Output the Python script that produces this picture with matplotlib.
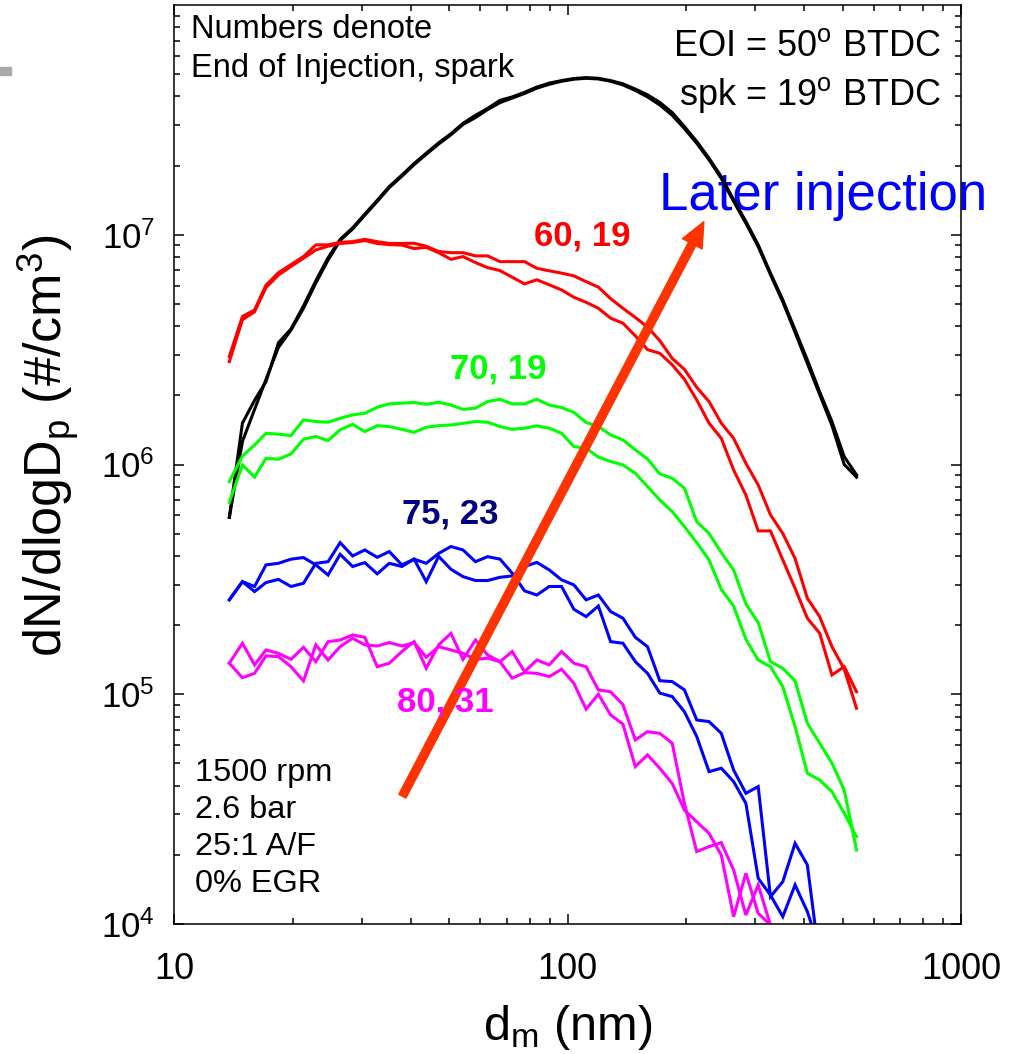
import numpy as np
import matplotlib
matplotlib.use("Agg")
import matplotlib.pyplot as plt
from matplotlib.ticker import FixedLocator, FixedFormatter, LogLocator, LogFormatterMathtext, NullFormatter
from matplotlib.patches import Rectangle

plt.rcParams["font.family"] = ["Liberation Sans", "DejaVu Sans"]
plt.rcParams["mathtext.fontset"] = "custom"
plt.rcParams["mathtext.rm"] = "Liberation Sans"
plt.rcParams["mathtext.it"] = "Liberation Sans:italic"
plt.rcParams["mathtext.bf"] = "Liberation Sans:bold"

# SMPS mobility diameters (nm), every other channel of the 64 ch/decade set
d_nm = [13.8, 14.9, 16.0, 17.1, 18.4, 19.8, 21.3, 22.9, 24.6, 26.4,
        28.4, 30.5, 32.8, 35.2, 37.9, 40.7, 43.7, 47.0, 50.5, 54.2,
        58.3, 62.6, 67.3, 72.3, 77.7, 83.5, 89.8, 96.5, 103.7, 111.4,
        119.7, 128.6, 138.2, 148.6, 159.6, 171.5, 184.4, 198.1, 212.9, 228.8,
        245.8, 264.2, 283.9, 305.1, 327.8, 352.3, 378.6, 406.8, 437.1, 469.8,
        504.8, 542.5]

# log10 of dN/dlogDp (#/cm3), two repeat scans per condition
eoi50_a = [5.77, 6.18, 6.28, 6.36, 6.53, 6.59, 6.69, 6.80, 6.90, 6.98,
           7.03, 7.09, 7.15, 7.21, 7.26, 7.31, 7.355, 7.40, 7.44, 7.485,
           7.52, 7.55, 7.585, 7.60, 7.62, 7.643, 7.66, 7.671, 7.680, 7.684,
           7.681, 7.671, 7.657, 7.634, 7.609, 7.576, 7.532, 7.471, 7.406, 7.333,
           7.253, 7.152, 7.058, 6.956, 6.833, 6.717, 6.586, 6.455, 6.317, 6.187,
           6.034, 5.955]
eoi50_b = [5.77, 6.10, 6.24, 6.37, 6.51, 6.585, 6.68, 6.79, 6.89, 6.975,
           7.025, 7.085, 7.145, 7.205, 7.255, 7.305, 7.35, 7.395, 7.435, 7.48,
           7.51, 7.545, 7.575, 7.595, 7.615, 7.638, 7.655, 7.668, 7.677, 7.681,
           7.678, 7.668, 7.652, 7.628, 7.600, 7.565, 7.520, 7.462, 7.398, 7.326,
           7.245, 7.145, 7.050, 6.948, 6.826, 6.708, 6.575, 6.44, 6.305, 6.17,
           6.00, 5.945]

eoi60_a = [6.448, 6.63, 6.665, 6.77, 6.825, 6.862, 6.898, 6.934, 6.950, 6.962,
           6.966, 6.975, 6.962, 6.957, 6.955, 6.940, 6.945, 6.922, 6.893, 6.905,
           6.879, 6.857, 6.844, 6.815, 6.786, 6.804, 6.782, 6.760, 6.728, 6.706,
           6.680, 6.637, 6.615, 6.560, 6.500, 6.484, 6.434, 6.371, 6.281, 6.180,
           6.114, 5.976, 5.867, 5.711, 5.711, 5.585, 5.461, 5.331, 5.266, 5.084,
           5.120, 5.011]
eoi60_b = [6.47, 6.644, 6.673, 6.78, 6.835, 6.87, 6.905, 6.956, 6.956, 6.967,
           6.970, 6.980, 6.970, 6.962, 6.962, 6.963, 6.950, 6.927, 6.922, 6.922,
           6.908, 6.908, 6.883, 6.883, 6.883, 6.854, 6.843, 6.833, 6.821, 6.796,
           6.772, 6.722, 6.680, 6.640, 6.598, 6.539, 6.462, 6.414, 6.336, 6.274,
           6.180, 6.114, 6.005, 5.911, 5.781, 5.700, 5.591, 5.418, 5.338, 5.207,
           5.110, 4.939]

eoi70_a = [5.926, 6.037, 6.085, 6.136, 6.132, 6.126, 6.194, 6.187, 6.184, 6.201,
           6.216, 6.223, 6.249, 6.264, 6.267, 6.270, 6.262, 6.271, 6.259, 6.240,
           6.245, 6.274, 6.284, 6.264, 6.264, 6.284, 6.259, 6.248, 6.227, 6.183,
           6.165, 6.129, 6.107, 6.064, 6.024, 5.959, 5.940, 5.897, 5.751, 5.700,
           5.617, 5.541, 5.393, 5.312, 5.142, 5.113, 5.058, 4.874, 4.787, 4.700,
           4.583, 4.322]
eoi70_b = [5.835, 5.998, 5.945, 6.027, 6.023, 6.046, 6.110, 6.122, 6.104, 6.151,
           6.175, 6.143, 6.169, 6.165, 6.153, 6.140, 6.162, 6.169, 6.172, 6.179,
           6.187, 6.184, 6.165, 6.153, 6.158, 6.168, 6.158, 6.136, 6.078, 6.071,
           6.032, 6.013, 5.998, 5.962, 5.904, 5.846, 5.795, 5.730, 5.660, 5.585,
           5.457, 5.384, 5.239, 5.149, 5.120, 5.033, 4.859, 4.656, 4.627, 4.576,
           4.482, 4.380]

eoi75_a = [5.411, 5.490, 5.447, 5.486, 5.500, 5.469, 5.483, 5.570, 5.577, 5.660,
           5.602, 5.628, 5.596, 5.621, 5.563, 5.588, 5.570, 5.613, 5.643, 5.628,
           5.577, 5.599, 5.588, 5.527, 5.450, 5.432, 5.469, 5.469, 5.370, 5.338,
           5.384, 5.229, 5.222, 5.142, 5.091, 5.005, 4.990, 4.924, 4.816, 4.663,
           4.678, 4.620, 4.525, 4.199, 4.126, 4.032, 4.170, 4.054, 3.89]
eoi75_b = [5.411, 5.490, 5.469, 5.563, 5.570, 5.588, 5.595, 5.563, 5.519, 5.609,
           5.556, 5.573, 5.524, 5.570, 5.556, 5.588, 5.490, 5.600, 5.544, 5.512,
           5.495, 5.495, 5.509, 5.515, 5.556, 5.574, 5.541, 5.498, 5.476, 5.411,
           5.432, 5.360, 5.331, 5.248, 5.207, 5.059, 5.055, 5.019, 4.888, 4.881,
           4.830, 4.670, 4.569, 4.598, 4.119, 4.184, 4.351, 4.257, 3.84]

eoi80_a = [5.135, 5.222, 5.128, 5.193, 5.178, 5.152, 5.204, 5.142, 5.229, 5.236,
           5.258, 5.248, 5.120, 5.135, 5.186, 5.229, 5.113, 5.215, 5.265, 5.152,
           5.236, 5.171, 5.142, 5.186, 5.098, 5.149, 5.128, 5.186, 5.135, 5.120,
           5.019, 5.011, 4.955, 4.801, 4.837, 4.830, 4.787, 4.525, 4.315, 4.337,
           4.354, 4.235, 4.039, 4.170, 3.996]
eoi80_b = [5.135, 5.072, 5.091, 5.167, 5.164, 5.120, 5.058, 5.215, 5.149, 5.207,
           5.244, 5.215, 5.210, 5.225, 5.210, 5.225, 5.161, 5.207, 5.193, 5.178,
           5.152, 5.157, 5.142, 5.070, 5.094, 5.091, 5.077, 5.109, 5.048, 4.935,
           5.000, 4.910, 4.870, 4.685, 4.736, 4.678, 4.612, 4.496, 4.445, 4.395,
           4.300, 4.032, 4.221, 4.046, 3.996]

series = [
    (eoi50_a, "black"), (eoi50_b, "black"),
    (eoi60_a, "#ff0000"), (eoi60_b, "#ff0000"),
    (eoi70_a, "#00ff00"), (eoi70_b, "#00ff00"),
    (eoi75_a, "#0000ff"), (eoi75_b, "#0000ff"),
    (eoi80_a, "#ff00ff"), (eoi80_b, "#ff00ff"),
]

case_labels = ["60, 19", "70, 19", "75, 23", "80, 31"]
case_colors = ["#ff0000", "#00ff00", "#000080", "#ff00ff"]
case_pos = [(0.4567, 0.7388), (0.3505, 0.5938), (0.2890, 0.4360), (0.2827, 0.2310)]

fig = plt.figure(figsize=(10.09, 10.54), dpi=100)
ax = fig.add_axes([174.3 / 1009, 130 / 1054, 786.7 / 1009, 919 / 1054])

for vals, col in series:
    ax.plot(d_nm[:len(vals)], 10 ** np.array(vals), color=col, lw=2.2,
            solid_joinstyle="miter")

ax.set_xscale("log")
ax.set_yscale("log")
ax.set_xlim(10, 1000)
ax.set_ylim(1e4, 1e8)

ax.xaxis.set_major_locator(FixedLocator([10, 100, 1000]))
ax.xaxis.set_major_formatter(FixedFormatter(["10", "100", "1000"]))
ax.xaxis.set_minor_locator(LogLocator(base=10, subs=np.arange(2, 10)))
ax.xaxis.set_minor_formatter(NullFormatter())
ax.yaxis.set_major_locator(FixedLocator([1e4, 1e5, 1e6, 1e7]))
ax.yaxis.set_major_formatter(LogFormatterMathtext())
ax.yaxis.set_minor_locator(LogLocator(base=10, subs=np.arange(2, 10), numticks=20))
ax.yaxis.set_minor_formatter(NullFormatter())

ax.tick_params(which="both", direction="in", top=True, right=True, width=1.1)
ax.tick_params(which="major", length=7.2)
ax.tick_params(which="minor", length=4.3)
ax.tick_params(axis="x", which="major", labelsize=26, pad=20)
ax.tick_params(axis="y", which="major", labelsize=25, pad=14)
for sp in ax.spines.values():
    sp.set_linewidth(1.1)

ax.set_xlabel(r"d$_\mathrm{m}$ (nm)", fontsize=35, labelpad=12)
ax.set_ylabel(r"dN/dlogD$_\mathrm{p}$ (#/cm$^\mathrm{3}$)", fontsize=37.5)
ax.yaxis.set_label_coords(-0.118, 0.52)

# trend arrow: later end of injection
ax.annotate("", xy=(222, 1.14e7), xytext=(38, 3.6e4),
            arrowprops=dict(arrowstyle="simple,tail_width=0.58,head_width=1.6,head_length=1.8",
                            mutation_scale=10, color="#ff3300", shrinkA=0, shrinkB=0),
            zorder=4)
ax.text(0.616, 0.777, "Later injection", transform=ax.transAxes, fontsize=38,
        color="#0000ff", va="baseline", ha="left", zorder=1, clip_on=False)

for lab, col, (x, y) in zip(case_labels, case_colors, case_pos):
    ax.text(x, y, lab, transform=ax.transAxes, fontsize=25, fontweight="bold",
            color=col, va="baseline", ha="left", zorder=5)

# multi-line notes are anchored on the baseline of their last line
ax.text(0.0208, 0.9217, "Numbers denote\nEnd of Injection, spark", transform=ax.transAxes,
        fontsize=23.5, va="baseline", ha="left", linespacing=1.32)
ax.text(0.9746, 0.8912, "EOI = 50$^\\mathrm{o}$ BTDC\nspk = 19$^\\mathrm{o}$ BTDC",
        transform=ax.transAxes, fontsize=26, va="baseline", ha="right", linespacing=1.35)
ax.text(0.0263, 0.0348, "1500 rpm\n2.6 bar\n25:1 A/F\n0% EGR", transform=ax.transAxes,
        fontsize=23.4, va="baseline", ha="left", linespacing=1.31)

# small grey mark at the left edge of the slide
fig.patches.append(Rectangle((0, 0.9289), 0.0109, 0.0076, transform=fig.transFigure,
                             color="#aaaaaa", zorder=0))

fig.savefig("out.png", dpi=100)
